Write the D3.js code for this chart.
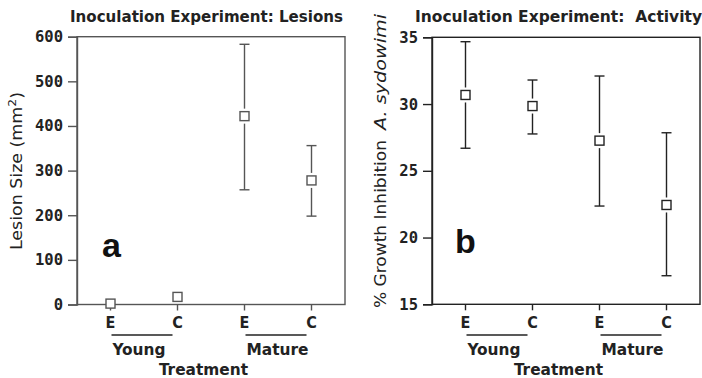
<!DOCTYPE html>
<html>
<head>
<meta charset="utf-8">
<script src="https://cdn.jsdelivr.net/npm/d3@7"></script>
<style>
  html, body { margin: 0; padding: 0; background: #fff; }
  svg { display: block; }
  text { font-family: "DejaVu Sans Condensed", "DejaVu Sans", sans-serif; }
</style>
</head>
<body>
<svg id="chart" width="702" height="378"></svg>
<script>
// ---- data ----
const categories = ["Young E", "Young C", "Mature E", "Mature C"];
const tickLabels = ["E", "C", "E", "C"];
const groups = ["Young", "Mature"];

const lesionMean  = [2, 17, 422, 278];
const lesionUpper = [null, null, 583, 356];
const lesionLower = [null, null, 257, 198];
const lesionTicks = [0, 100, 200, 300, 400, 500, 600];

const activityMean  = [30.68, 29.85, 27.26, 22.44];
const activityUpper = [34.67, 31.8, 32.1, 27.85];
const activityLower = [26.69, 27.76, 22.36, 17.14];
const activityTicks = [15, 20, 25, 30, 35];

const svg = d3.select("#chart");

function txt(g, x, y, s, size, opts = {}) {
  const t = g.append("text").attr("x", x).attr("y", y)
    .style("font-size", size + "px")
    .style("font-weight", opts.weight || "bold")
    .attr("fill", opts.fill || "#222")
    .attr("text-anchor", opts.anchor || "start");
  if (opts.family) t.style("font-family", opts.family);
  if (opts.italic) t.style("font-style", "italic");
  if (opts.len) t.attr("textLength", opts.len).attr("lengthAdjust", "spacingAndGlyphs");
  if (opts.rotate) t.attr("transform", `rotate(-90,${x},${y})`);
  t.text(s);
  return t;
}

function panel(opts) {
  const { x0, x1, yTop, yBot, domain, ticks, mean, upper, lower, color,
          title, titleX, titleLen, letter, letterX, letterY, ylabel } = opts;
  const g = svg.append("g");
  const x = d3.scaleBand().domain(categories).range([x0, x1]).padding(0);
  const y = d3.scaleLinear().domain(domain).range([yBot, yTop]);

  // frame
  g.append("rect").attr("x", x0).attr("y", yTop).attr("width", x1 - x0).attr("height", yBot - yTop)
    .attr("fill", "none").attr("stroke", color).attr("stroke-width", 1.4);

  // y axis
  const ya = g.append("g").attr("transform", `translate(${x0},0)`)
    .call(d3.axisLeft(y).tickValues(ticks).tickSize(9).tickPadding(5).tickFormat(d3.format("d")));
  ya.select(".domain").attr("stroke", color).attr("stroke-width", 1.4);
  ya.selectAll(".tick line").attr("stroke", color).attr("stroke-width", 1.4);
  ya.selectAll(".tick text").attr("fill", "#222").style("font-family", "'DejaVu Sans Mono', monospace")
    .style("font-size", "15.5px").style("font-weight", "bold");

  // x axis
  const xa = g.append("g").attr("transform", `translate(0,${yBot})`)
    .call(d3.axisBottom(x).tickSize(6).tickPadding(6).tickFormat((d, i) => tickLabels[i]));
  xa.select(".domain").remove();
  xa.selectAll(".tick line").attr("stroke", color).attr("stroke-width", 1.4);
  xa.selectAll(".tick text").attr("fill", "#222").style("font-family", "'DejaVu Sans Condensed', sans-serif")
    .style("font-size", "16px").style("font-weight", "bold");

  // group underlines + labels
  groups.forEach((grp, gi) => {
    const a = x(categories[gi * 2]) + x.bandwidth() / 2 + 1;
    const b = x(categories[gi * 2 + 1]) + x.bandwidth() / 2 - 5;
    g.append("line").attr("x1", a).attr("x2", b).attr("y1", 335).attr("y2", 335)
      .attr("stroke", "#222").attr("stroke-width", 1.4);
    txt(g, a + 1, 355, grp, 15, { len: gi === 0 ? 53 : 62 });
  });
  txt(g, x0 + 82, 375, "Treatment", 15, { len: 89 });

  // title
  txt(g, titleX, 22, title, 15, { len: titleLen });

  // letter
  txt(g, letterX, letterY, letter, 34, { family: "'Liberation Sans', Arial, sans-serif", fill: "#111" });

  ylabel(g);

  // error bars + markers
  const half = 4.5, gap = 3, cap = 5;
  categories.forEach((c, i) => {
    const cx = x(c) + x.bandwidth() / 2;
    const cy = y(mean[i]);
    if (upper[i] != null) {
      const yu = y(upper[i]), yl2 = y(lower[i]);
      g.append("line").attr("x1", cx).attr("x2", cx).attr("y1", yu).attr("y2", cy - half - gap)
        .attr("stroke", color).attr("stroke-width", 1.4);
      g.append("line").attr("x1", cx).attr("x2", cx).attr("y1", cy + half + gap).attr("y2", yl2)
        .attr("stroke", color).attr("stroke-width", 1.4);
      [yu, yl2].forEach(yy => g.append("line").attr("x1", cx - cap).attr("x2", cx + cap)
        .attr("y1", yy).attr("y2", yy).attr("stroke", color).attr("stroke-width", 1.4));
    }
    g.append("rect").attr("x", cx - half).attr("y", cy - half).attr("width", half * 2).attr("height", half * 2)
      .attr("fill", "#fff").attr("stroke", color).attr("stroke-width", 1.4);
  });
}

panel({
  x0: 77, x1: 345, yTop: 36.7, yBot: 304.5, domain: [0, 600], ticks: lesionTicks,
  mean: lesionMean, upper: lesionUpper, lower: lesionLower, color: "#555",
  title: "Inoculation Experiment: Lesions", titleX: 70, titleLen: 273,
  letter: "a", letterX: 102, letterY: 257,
  ylabel: g => {
    const t = g.append("text").attr("transform", "translate(22,250) rotate(-90)")
      .style("font-size", "15.5px").attr("fill", "#222")
      .attr("textLength", 158).attr("lengthAdjust", "spacingAndGlyphs");
    t.append("tspan").text("Lesion Size (mm");
    t.append("tspan").attr("dy", -6).style("font-size", "11px").text("2");
    t.append("tspan").attr("dy", 6).text(")");
  }
});

panel({
  x0: 432, x1: 700, yTop: 37.3, yBot: 304.3, domain: [15, 35], ticks: activityTicks,
  mean: activityMean, upper: activityUpper, lower: activityLower, color: "#222",
  title: "Inoculation Experiment:\u00a0 Activity", titleX: 415, titleLen: 287,
  letter: "b", letterX: 455, letterY: 253,
  ylabel: g => {
    txt(g, 386, 308, "% Growth Inhibition", 15.5, { weight: "normal", len: 168, rotate: true });
    txt(g, 386, 130, "A. sydowimi", 15.5, { weight: "normal", italic: true, len: 116, rotate: true });
  }
});
</script>
</body>
</html>
